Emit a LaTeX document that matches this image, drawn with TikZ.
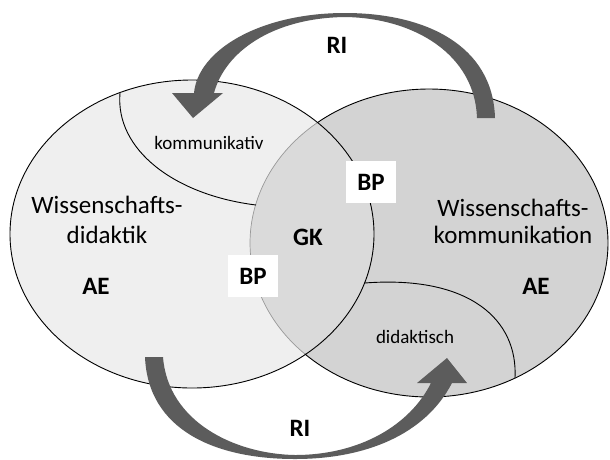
\documentclass[tikz,border=0pt]{standalone}
\usepackage{fontspec}
\setmainfont{Carlito}
\definecolor{leftfill}{HTML}{EFEFEF}
\definecolor{rightfill}{HTML}{D3D3D3}
\definecolor{midfill}{HTML}{DADADA}
\definecolor{arrowgray}{HTML}{5C5C5C}
\definecolor{innerline}{HTML}{9A9A9A}
\begin{document}
\begin{tikzpicture}[x=1pt,y=-1pt,
  biglbl/.style={align=center, inner sep=0pt},
  smalllbl/.style={font=\fontsize{19}{21}\selectfont, inner sep=0pt},
  boldlbl/.style={font=\fontsize{25}{27}\selectfont\bfseries, inner sep=0pt},
  bpbox/.style={fill=white, font=\fontsize{25}{27}\selectfont\bfseries, minimum width=50pt, minimum height=42pt, inner sep=0pt},
  outline/.style={draw=black, line width=0.9pt},
  arrowshape/.style={fill=arrowgray}]
\useasboundingbox (0,0) rectangle (610,459);
\fill[white] (0,0) rectangle (610,459);
% ellipse fills
\fill[leftfill] (192,234) ellipse [x radius=182pt, y radius=154pt];
\fill[rightfill] (429,243) ellipse [x radius=179pt, y radius=154pt];
\begin{scope}
  \clip (192,234) ellipse [x radius=182pt, y radius=154pt];
  \fill[midfill] (429,243) ellipse [x radius=179pt, y radius=154pt];
\end{scope}
% right ellipse outline: black outside, grey inside left ellipse
\draw[outline] ([shift={(226:179pt and 154pt)}]429,243) arc[start angle=226, end angle=488.5, x radius=179pt, y radius=154pt];
\draw[draw=innerline, line width=0.7pt] ([shift={(128.5:179pt and 154pt)}]429,243) arc[start angle=128.5, end angle=226, x radius=179pt, y radius=154pt];
% left ellipse outline
\draw[outline] (192,234) ellipse [x radius=182pt, y radius=154pt];
% sub-regions
\coordinate (k1) at (120,93);
\coordinate (k2) at (256,205);
\draw[outline] (k1) .. controls (115,150) and (175,195) .. (k2);
\coordinate (d1) at (364.5,283);
\coordinate (d2) at (515,378);
\draw[outline] (d1) .. controls (470,275) and (518,320) .. (d2);
% top arrow (right to left)
\fill[arrowshape] (477,118) -- (495,118) .. controls (493,45) and (425,13) .. (345,13)
  .. controls (260,13) and (198,50) .. (194,93) -- (172,93) -- (193,118) -- (223,93) -- (214,93)
  .. controls (225,52) and (272,18) .. (345,17) .. controls (415,18) and (475,55) .. (477,118) -- cycle;
% bottom arrow (left to right)
\fill[arrowshape] (145,357) -- (163,357) .. controls (168,422) and (235,454) .. (295,455)
  .. controls (360,455) and (410,425) .. (431,383) -- (417,383) -- (447,358) -- (467,383) -- (452,383)
  .. controls (425,435) and (365,459) .. (295,459) .. controls (215,459) and (148,430) .. (145,357) -- cycle;
% labels
\node[boldlbl] (ritop) at (337,45) {RI};
\node[boldlbl] (ribot) at (300,428) {RI};
\node[smalllbl] (komm) at (209,143) {kommunikativ};
\node[smalllbl] (dida) at (415,337) {didaktisch};
\node[biglbl, font=\fontsize{25}{30}\selectfont] (wd) at (107,220) {Wissenschafts-\\didaktik};
\node[biglbl, font=\fontsize{25}{27}\selectfont] (wk) at (513,221) {Wissenschafts-\\kommunikation};
\node[boldlbl] (ael) at (96,286) {AE};
\node[boldlbl] (aer) at (536,286) {AE};
\node[boldlbl] (gk) at (308,237) {GK};
\node[bpbox] (bp1) at (371,182) {BP};
\node[bpbox] (bp2) at (253,276) {BP};
\end{tikzpicture}
\end{document}
